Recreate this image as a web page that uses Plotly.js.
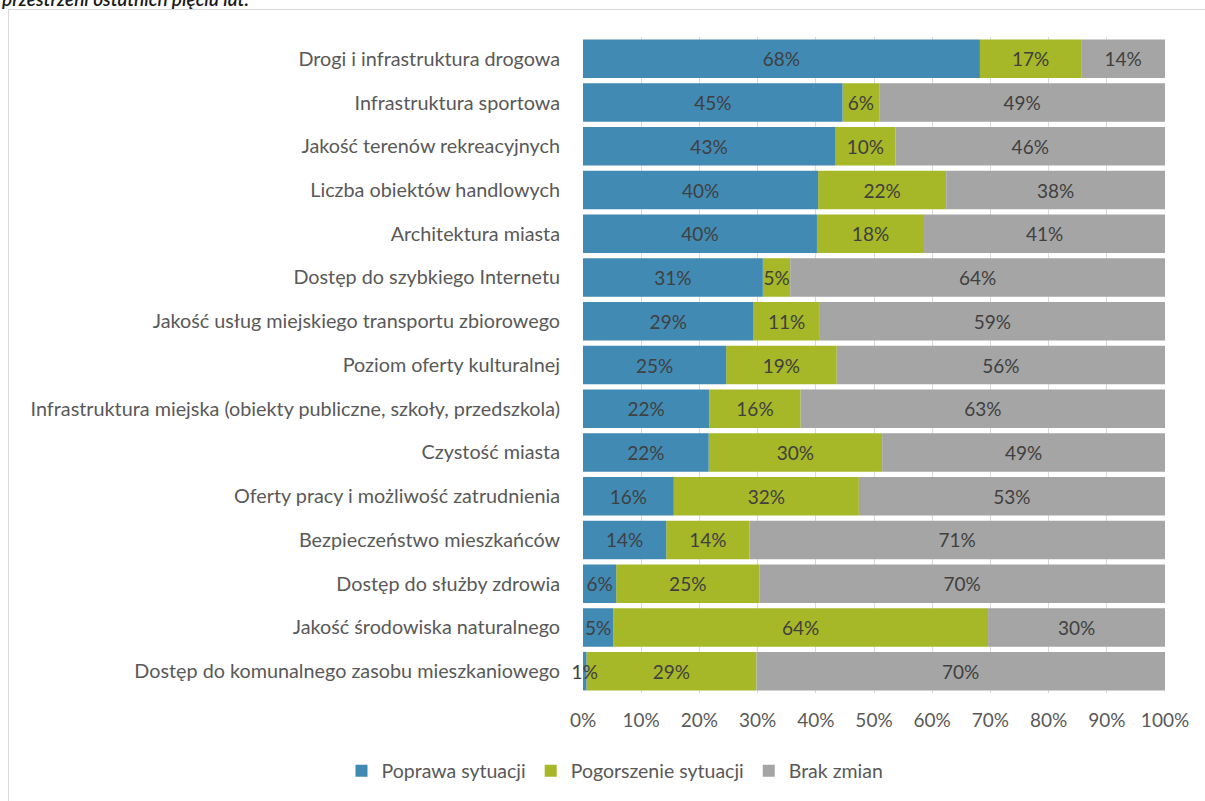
<!DOCTYPE html>
<html>
<head>
<meta charset="utf-8">
<script src="https://cdn.plot.ly/plotly-3.0.1.min.js"></script>
<style>
html,body{margin:0;padding:0;background:#fff;overflow:hidden;}
#frame{position:absolute;left:8px;top:9px;width:1210px;height:800px;border:1px solid #d9d9d9;box-sizing:border-box;pointer-events:none;}
#chart{position:absolute;left:0;top:0;width:1205px;height:801px;}
</style>
</head>
<body>
<div id="chart"></div>
<div id="frame"></div>
<script>
const categories = [
  "Drogi i infrastruktura drogowa",
  "Infrastruktura sportowa",
  "Jakość terenów rekreacyjnych",
  "Liczba obiektów handlowych",
  "Architektura miasta",
  "Dostęp do szybkiego Internetu",
  "Jakość usług miejskiego transportu zbiorowego",
  "Poziom oferty kulturalnej",
  "Infrastruktura miejska (obiekty publiczne, szkoły, przedszkola)",
  "Czystość miasta",
  "Oferty pracy i możliwość zatrudnienia",
  "Bezpieczeństwo mieszkańców",
  "Dostęp do służby zdrowia",
  "Jakość środowiska naturalnego",
  "Dostęp do komunalnego zasobu mieszkaniowego"
];
const poprawa     = [68.2, 44.6, 43.3, 40.4, 40.2, 30.9, 29.3, 24.6, 21.7, 21.6, 15.6, 14.3, 5.7, 5.2, 0.6];
const pogorszenie = [17.4, 6.3, 10.4, 22.0, 18.4, 4.7, 11.4, 19.0, 15.7, 29.8, 31.8, 14.3, 24.6, 64.4, 29.2];
const brak        = [14.4, 49.1, 46.3, 37.6, 41.4, 64.4, 59.3, 56.4, 62.6, 48.6, 52.6, 71.4, 69.7, 30.4, 70.2];
const seriesNames = ["Poprawa sytuacji", "Pogorszenie sytuacji", "Brak zmian"];
const colors = ["#418AB3", "#A6B727", "#A5A5A5"];
const tickVals = [0,10,20,30,40,50,60,70,80,90,100];
const tickText = ["0%","10%","20%","30%","40%","50%","60%","70%","80%","90%","100%"];
const note = "przestrzeni ostatnich pięciu lat.";

const FONT = "Lato, 'Open Sans', sans-serif";
const T = 37, B = 107, H = 801 - T - B;

// stacking bases derived from the data (so the first series can be drawn last, keeping its labels on top)
const base0 = poprawa.map(() => 0);
const base1 = poprawa.slice();
const base2 = poprawa.map((v, i) => v + pogorszenie[i]);
const series = [poprawa, pogorszenie, brak];
const bases = [base0, base1, base2];

function mk(i) {
  return {
    type: "bar",
    orientation: "h",
    name: seriesNames[i],
    legendrank: i + 1,
    y: categories,
    x: series[i],
    base: bases[i],
    marker: {color: colors[i], line: {width: 0}},
    texttemplate: "%{x:.0f}%",
    textposition: "inside",
    insidetextanchor: "middle",
    textangle: 0,
    constraintext: "none",
    cliponaxis: false,
    textfont: {family: FONT, size: 19, color: "#404040"},
    hoverinfo: "name+x"
  };
}
const data = [mk(1), mk(2), mk(0)];

const layout = {
  width: 1205, height: 801,
  margin: {l: 583, r: 40, t: T, b: B, pad: 0},
  barmode: "overlay",
  bargap: 0.12,
  paper_bgcolor: "#fff",
  plot_bgcolor: "#fff",
  font: {family: FONT, color: "#595959", size: 19},
  showlegend: true,
  legend: {
    orientation: "h", x: 0.055, xanchor: "center", y: -(771 - (801 - B)) / H, yanchor: "middle",
    font: {family: FONT, size: 19.5, color: "#595959"},
    itemwidth: 30, traceorder: "normal"
  },
  xaxis: {
    range: [0, 100], tickvals: tickVals, ticktext: tickText,
    showgrid: true, gridcolor: "#d9d9d9", gridwidth: 1,
    zeroline: false, showline: false,
    ticks: "outside", ticklen: 10, tickcolor: "rgba(0,0,0,0)",
    tickfont: {family: FONT, size: 19, color: "#595959"},
    fixedrange: true
  },
  yaxis: {
    type: "category", autorange: "reversed",
    showgrid: false, zeroline: false, showline: false,
    ticks: "outside", ticklen: 18, tickcolor: "rgba(0,0,0,0)",
    tickfont: {family: FONT, size: 19.8, color: "#595959"},
    fixedrange: true
  },
  annotations: [{
    text: "<i>" + note + "</i>",
    xref: "paper", yref: "paper",
    x: -583/582, xanchor: "left",
    y: 1 + (T + 2) / H, yanchor: "middle",
    showarrow: false,
    font: {family: FONT, size: 19, color: "#1a1a1a", weight: 600}
  }]
};

Plotly.newPlot("chart", data, layout, {displayModeBar: false, staticPlot: true});
</script>
</body>
</html>
